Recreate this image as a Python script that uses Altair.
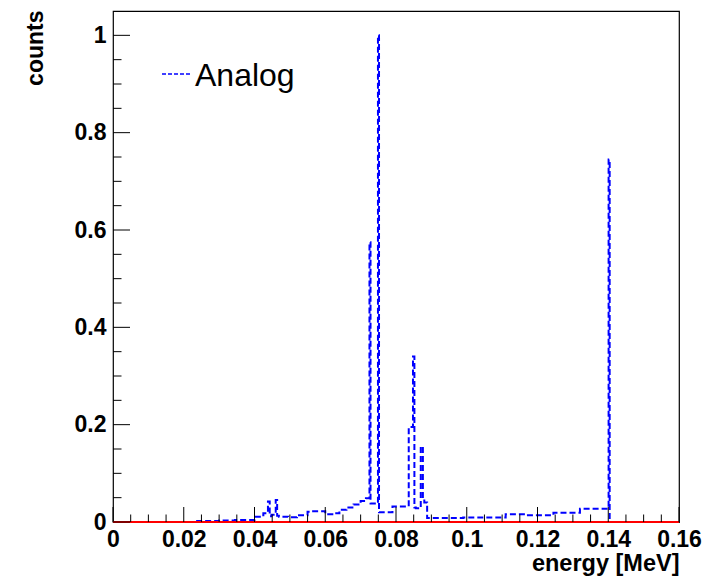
import altair as alt
import pandas as pd

# ---- data ----
# step histogram: left edges of constant segments and their counts; last edge closes the histogram
edges = [0.0235, 0.0300, 0.0345, 0.0400, 0.0415, 0.0425, 0.0438, 0.0443, 0.0448, 0.0460,
         0.0464, 0.0469, 0.0495, 0.0520, 0.0550, 0.0560, 0.0600, 0.0620, 0.0640, 0.0660,
         0.0680, 0.0700, 0.0715, 0.0725, 0.0728, 0.0749, 0.0752, 0.0790, 0.0836, 0.0848,
         0.0852, 0.0856, 0.0870, 0.0876, 0.0880, 0.0888, 0.0990, 0.1110, 0.1170, 0.1245,
         0.1320, 0.1401, 0.1404]
counts = [0.002, 0.003, 0.004, 0.011, 0.014, 0.018, 0.042, 0.012, 0.015, 0.045,
          0.013, 0.011, 0.010, 0.014, 0.021, 0.022, 0.016, 0.018, 0.025, 0.030,
          0.036, 0.043, 0.049, 0.575, 0.038, 1.000, 0.020, 0.032, 0.195, 0.340,
          0.030, 0.028, 0.155, 0.048, 0.040, 0.008, 0.009, 0.016, 0.014, 0.019,
          0.027, 0.745, 0.0]
x_major = [0, 0.02, 0.04, 0.06, 0.08, 0.1, 0.12, 0.14, 0.16]
y_major = [0, 0.2, 0.4, 0.6, 0.8, 1.0]
legend_label = "Analog"
x_title = "energy [MeV]"
y_title = "counts"

x_minor = [round(m + k * 0.005, 4) for m in x_major[:-1] for k in (1, 2, 3)]
y_minor = [round(m + k * 0.05, 4) for m in y_major for k in (1, 2, 3) if m + k * 0.05 < 1.049]

W, H = 566, 511
FONT = "Liberation Sans"

hist = pd.DataFrame({"E": edges, "c": counts})
xs = alt.Scale(domain=[0, 0.16], nice=False, zero=False)
ys = alt.Scale(domain=[0, 1.05], nice=False)

xaxis = alt.Axis(values=x_major, format="~g", title=x_title, grid=False, ticks=False, domain=False,
                 labelFont=FONT, labelFontSize=23, labelFontWeight="bold", labelColor="black",
                 labelPadding=6, labelFlush=False, labelOverlap=False,
                 titleFont=FONT, titleFontSize=23.5, titleFontWeight="bold", titleColor="black",
                 titleAnchor="end", titleAlign="right", titleX=W, titleY=48, titleBaseline="alphabetic")
yaxis = alt.Axis(values=y_major, format="~g", title=y_title, grid=False, ticks=False, domain=False,
                 labelFont=FONT, labelFontSize=23, labelFontWeight="bold", labelColor="black",
                 labelPadding=7, labelOverlap=False,
                 titleFont=FONT, titleFontSize=23, titleFontWeight="bold", titleColor="black",
                 titleAngle=270, titleAlign="right", titleX=-71, titleY=-1, titleBaseline="alphabetic")

line = alt.Chart(hist).mark_line(interpolate="step-after", color="#0000ff", strokeWidth=2,
                                 strokeDash=[6, 3], clip=True).encode(
    x=alt.X("E:Q", scale=xs, axis=xaxis),
    y=alt.Y("c:Q", scale=ys, axis=yaxis),
)

red = alt.Chart(pd.DataFrame({"z": [0]})).mark_rule(color="#ff0000", strokeWidth=2).encode(
    y=alt.Y("z:Q", scale=ys), x=alt.value(0), x2=alt.value(W))

def xticks(vals, length):
    return alt.Chart(pd.DataFrame({"v": vals})).mark_rule(color="black", strokeWidth=1).encode(
        x=alt.X("v:Q", scale=xs), y=alt.value(H), y2=alt.value(H - length))

def yticks(vals, length):
    return alt.Chart(pd.DataFrame({"v": vals})).mark_rule(color="black", strokeWidth=1).encode(
        y=alt.Y("v:Q", scale=ys), x=alt.value(0), x2=alt.value(length))

leg_line = alt.Chart(pd.DataFrame({"t": [legend_label]})).mark_rule(
    color="#0000ff", strokeWidth=1.5, strokeDash=[4, 2]).encode(
    x=alt.value(49), x2=alt.value(78), y=alt.value(63))
leg_text = alt.Chart(pd.DataFrame({"t": [legend_label]})).mark_text(
    font=FONT, fontSize=32, align="left", baseline="alphabetic", color="black").encode(
    text="t:N", x=alt.value(82), y=alt.value(75))

chart = alt.layer(
    line, red,
    xticks(x_major, 15), xticks(x_minor, 7.5),
    yticks(y_major, 17), yticks(y_minor, 8.5),
    leg_line, leg_text,
).properties(
    width=W, height=H,
    padding={"left": 113, "top": 11, "right": 27, "bottom": 54},
    autosize="none",
    background="white",
).configure_view(stroke="black", strokeWidth=1.2)

chart.save("out.html", embed_options={"renderer": "svg", "actions": False})
